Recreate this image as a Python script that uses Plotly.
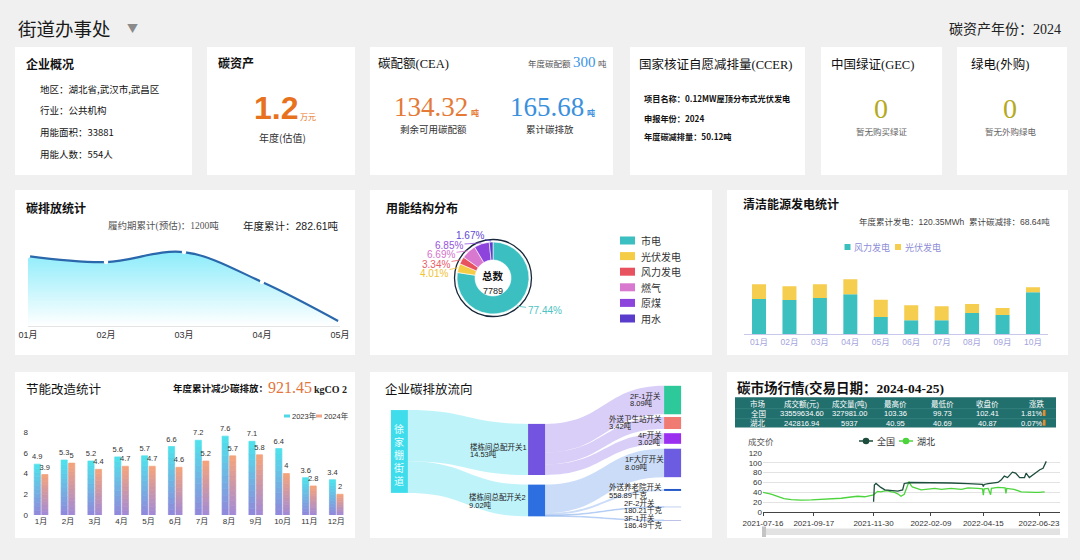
import math
import plotly.graph_objects as go

W, H = 1080, 560
SANS = "Noto Sans CJK SC, Noto Sans, sans-serif"
SERIF = "Liberation Serif, Noto Sans CJK SC, serif"
ARIAL = "Liberation Sans, Noto Sans CJK SC, sans-serif"

# ======================= DATA =======================
page_title = "街道办事处"
asset_year_label = "碳资产年份"
asset_year = "2024"

overview_title = "企业概况"
overview_labels = ["地区", "行业", "用能面积", "用能人数"]
overview_values = ["湖北省,武汉市,武昌区", "公共机构", "33881", "554人"]

asset_title = "碳资产"
asset_value = 1.2
asset_unit = "万元"
asset_note = "年度(估值)"

cea_title = "碳配额(CEA)"
cea_quota = 300
cea_remaining = 134.32
cea_emitted = 165.68

ccer_title = "国家核证自愿减排量(CCER)"
ccer_labels = ["项目名称", "申报年份", "年度碳减排量"]
ccer_values = ["0.12MW屋顶分布式光伏发电", "2024", "50.12吨"]

gec_title = "中国绿证(GEC)"
gec_value = 0
gec_note = "暂无购买绿证"
green_title = "绿电(外购)"
green_value = 0
green_note = "暂无外购绿电"

emission_months = ["01月", "02月", "03月", "04月", "05月"]
emission_values = [77.3, 70.6, 81.7, 48.6, 4.41]
emission_period_total = 1200
emission_year_total = 282.61

energy_labels = ["市电", "光伏发电", "风力发电", "燃气", "原煤", "用水"]
energy_share = [77.44, 4.01, 3.34, 6.69, 6.85, 1.67]
energy_total = 7789

clean_months = ["01月", "02月", "03月", "04月", "05月", "06月", "07月", "08月", "09月", "10月"]
clean_wind = [10.6, 10.3, 10.9, 12.1, 5.2, 4.2, 4.2, 6.4, 5.8, 12.7]
clean_solar = [4.5, 4.2, 4.2, 4.5, 5.2, 4.5, 4.2, 2.7, 2.1, 1.5]
clean_total_mwh = 120.35
clean_reduction = 68.64
clean_series = ["风力发电", "光伏发电"]

saving_months = ["1月", "2月", "3月", "4月", "5月", "6月", "7月", "8月", "9月", "10月", "11月", "12月"]
saving_2023 = [4.9, 5.3, 5.2, 5.6, 5.7, 6.6, 7.2, 7.6, 7.1, 6.4, 3.6, 3.4]
saving_2024 = [3.9, 5, 4.4, 4.7, 4.7, 4.6, 5.2, 5.7, 5.8, 4, 2.8, 2]
saving_series = ["2023年", "2024年"]
saving_total = 921.45

flow_nodes = ["徐家棚街道", "楼栋间总配开关1", "楼栋间总配开关2", "2F-1开关", "外送卫生站开关",
              "4F开关", "1F大厅开关", "外送养老院开关", "2F-2开关", "3F-1开关"]
flow_source = [0, 0, 1, 1, 1, 2, 2, 2, 2]
flow_target = [1, 2, 3, 4, 5, 6, 7, 8, 9]
flow_value = [14.53, 9.02, 8.09, 3.42, 3.02, 8.09, 0.55889, 0.18021, 0.18649]

market_trade_date = "2024-04-25"
market_header = ["市场", "成交额(元)", "成交量(吨)", "最高价", "最低价", "收盘价", "涨跌"]
market_national = ["全国", "33559634.60", "327981.00", "103.36", "99.73", "102.41", "1.81%"]
market_hubei = ["湖北", "242816.94", "5937", "40.95", "40.69", "40.87", "0.07%"]

hubei_dates = ["2021-07-16", "2021-07-26", "2021-08-03", "2021-08-11", "2021-08-20", "2021-09-01",
               "2021-09-14", "2021-09-26", "2021-10-08", "2021-10-21", "2021-11-02", "2021-11-10",
               "2021-11-19", "2021-11-27", "2021-11-30", "2021-12-05", "2021-12-09", "2021-12-14",
               "2021-12-18", "2021-12-22", "2021-12-26", "2021-12-30", "2022-01-03", "2022-01-07",
               "2022-01-11", "2022-01-13", "2022-01-15", "2022-01-17", "2022-01-28", "2022-02-09",
               "2022-02-14", "2022-02-22", "2022-03-06", "2022-03-19", "2022-03-27", "2022-04-08",
               "2022-04-14", "2022-04-15", "2022-04-16", "2022-04-21", "2022-04-24", "2022-04-25",
               "2022-05-03", "2022-05-12", "2022-05-13", "2022-05-14", "2022-05-23", "2022-06-01",
               "2022-06-09", "2022-06-18", "2022-06-23", "2022-06-30"]
hubei_price = [40, 36.5, 32, 27, 25, 24, 24.5, 25.5, 27, 28, 30.5, 32, 31, 33, 35, 42, 41, 43,
               43, 41, 40, 37, 32, 36, 55, 62, 55, 51, 45, 47, 48, 46, 48, 46, 49, 48, 47, 34,
               47, 48, 35, 48, 50, 49, 38, 48, 46, 41, 40, 40, 40, 41]
national_dates = ["2021-11-30", "2021-12-01", "2021-12-03", "2021-12-06", "2021-12-09", "2021-12-14",
                  "2021-12-22", "2021-12-30", "2022-01-05", "2022-01-07", "2022-01-15", "2022-01-28",
                  "2022-02-14", "2022-03-06", "2022-03-27", "2022-04-14", "2022-04-15", "2022-04-16",
                  "2022-04-21", "2022-05-03", "2022-05-07", "2022-05-11", "2022-05-15", "2022-05-21",
                  "2022-05-25", "2022-05-30", "2022-06-05", "2022-06-07", "2022-06-11", "2022-06-18",
                  "2022-06-24", "2022-06-28", "2022-07-02"]
national_price = [21, 55, 58, 53, 50, 45, 43, 42.5, 45, 58, 60, 60, 60, 59, 57.6, 56, 52, 56,
                  57.6, 60, 65, 73, 70, 81, 79, 70, 70, 79, 70, 79, 86, 89, 103]
market_series = ["全国", "湖北"]
market_ticks = ["2021-07-16", "2021-09-17", "2021-11-30", "2022-02-09", "2022-04-15", "2022-06-23"]

# ======================= STYLE =======================
energy_colors = ["#3bbfc0", "#f5cc45", "#e8525f", "#d878cf", "#8d44dc", "#5a3ccc"]
energy_text_colors = ["#4cc3c3", "#f0c232", "#e85d6a", "#d473cb", "#9455dd", "#6148d6"]
clean_colors = ["#3cbfbf", "#f5cd4f"]
node_colors = ["#3fdcec", "#7254e0", "#2d6fe0", "#2ec99a", "#f07b72", "#9b2ff0",
               "#6b5ce2", "#2458c8", "#9fb6e6", "#9aa0dc"]
link_palette = {0: "rgba(110,228,245,0.45)", 1: "rgba(185,165,240,0.55)", 2: "rgba(150,185,240,0.5)"}
market_colors = {"全国": "#1d4d3c", "湖北": "#4cd43c"}

shapes, ann = [], []


def X(x):
    return x / W


def Y(y):
    return 1 - y / H


def text(x, y, s, size=10, color="#222", family=SANS, xanchor="left", yanchor="middle", align="left"):
    ann.append(dict(xref="paper", yref="paper", x=X(x), y=Y(y), text=s, showarrow=False,
                    xanchor=xanchor, yanchor=yanchor, align=align, borderpad=0,
                    font=dict(size=size, color=color, family=family)))


def rect(x0, y0, x1, y1, fill, layer="below", line=None, lw=0):
    shapes.append(dict(type="rect", xref="paper", yref="paper", x0=X(x0), x1=X(x1), y0=Y(y1), y1=Y(y0),
                       fillcolor=fill, line=dict(width=lw, color=line or fill), layer=layer))


def hline(x0, x1, y, color, lw=1):
    shapes.append(dict(type="line", xref="paper", yref="paper", x0=X(x0), x1=X(x1), y0=Y(y), y1=Y(y),
                       line=dict(color=color, width=lw), layer="above"))


def circle(cx, cy, r, fill=None, line=None, lw=0):
    shapes.append(dict(type="circle", xref="paper", yref="paper", x0=X(cx - r), x1=X(cx + r),
                       y0=Y(cy + r), y1=Y(cy - r), fillcolor=fill or "rgba(0,0,0,0)",
                       line=dict(width=lw, color=line or "rgba(0,0,0,0)"), layer="above"))


# cards
for c in [(15, 47, 192, 175), (207, 47, 355, 175), (370, 47, 613, 175), (630, 47, 805, 175),
          (821, 47, 942, 175), (957, 47, 1067, 175),
          (15, 190, 355, 355), (370, 190, 712, 355), (727, 190, 1068, 355),
          (15, 372, 355, 538), (370, 372, 712, 538), (727, 372, 1068, 538)]:
    rect(*c, fill="white")

# header
text(17, 28, page_title, size=18.5, color="#1a1a1a")
text(132, 27.5, "▼", size=11, color="#8a8a8a", xanchor="center")
text(1062, 29, f"{asset_year_label}：{asset_year}", size=14, color="#222", family=SERIF, xanchor="right")

# card 1
text(25, 63, f"<b>{overview_title}</b>", size=12, color="#111")
for i, (lab, val) in enumerate(zip(overview_labels, overview_values)):
    text(39, [89, 110, 132, 154][i], f"{lab}：{val}", size=9.5, color="#111")

# card 2
text(217, 62, f"<b>{asset_title}</b>", size=12, color="#111")
text(299, 108, f"<b>{asset_value:g}</b>", size=32, color="#e8711e", family=ARIAL, xanchor="right")
text(299, 117, asset_unit, size=8, color="#e8711e", family=ARIAL)
text(282, 137, asset_note, size=10, color="#333", xanchor="center")

# card 3
text(377, 64, cea_title, size=12.5, color="#111", family=SERIF)
text(572, 63, "年度碳配额", size=8.5, color="#555", xanchor="right")
text(572, 62, f"{cea_quota}", size=15, color="#3a95e6", family=SERIF)
text(597, 63, "吨", size=8.5, color="#555")
text(469, 107, f"{cea_remaining:.2f}", size=27, color="#e57a37", family=SERIF, xanchor="right")
text(469.5, 112.5, "<b>吨</b>", size=8, color="#e57a37")
text(433, 129.5, "剩余可用碳配额", size=9.5, color="#333", xanchor="center")
text(585, 107, f"{cea_emitted:.2f}", size=27, color="#3b90dd", family=SERIF, xanchor="right")
text(585.5, 112.5, "<b>吨</b>", size=8, color="#3b90dd")
text(550, 129, "累计碳排放", size=9.5, color="#333", xanchor="center")

# card 4
text(638, 64, ccer_title, size=12.5, color="#111", family=SERIF)
for i, (lab, val) in enumerate(zip(ccer_labels, ccer_values)):
    text(643, [98, 118, 136][i], f"<b>{lab}：{val}</b>", size=8.2, color="#111")

# card 5, 6
text(830, 64, gec_title, size=12.5, color="#111", family=SERIF)
text(881, 109, f"{gec_value}", size=28, color="#b5aa1e", family=SERIF, xanchor="center")
text(882, 131, gec_note, size=8.5, color="#666", xanchor="center")
text(970, 64, green_title, size=12.5, color="#111", family=SERIF)
text(1010, 109, f"{green_value}", size=28, color="#b5aa1e", family=SERIF, xanchor="center")
text(1011, 131, green_note, size=8.5, color="#666", xanchor="center")

fig = go.Figure()

# ---------------- 碳排放统计 ----------------
text(25, 207, "<b>碳排放统计</b>", size=12, color="#111")
text(107, 226, f"履约期累计(预估)：{emission_period_total}吨", size=9.5, color="#555", family=SERIF)
text(242, 226, f"年度累计：{emission_year_total}吨", size=10.5, color="#222", family=ARIAL)
fig.add_trace(go.Scatter(
    x=emission_months, y=emission_values, mode="lines+markers", xaxis="x", yaxis="y",
    line=dict(color="#2a67ab", width=2.2, shape="spline", smoothing=1.0),
    marker=dict(size=4.5, color="white"), cliponaxis=False,
    fill="tozeroy",
    fillgradient=dict(type="vertical", start=0, stop=max(emission_values),
                      colorscale=[[0, "rgba(255,255,255,1)"], [1, "rgba(140,236,250,1)"]]),
    showlegend=False))

# ---------------- 用能结构分布 ----------------
text(385, 207, "<b>用能结构分布</b>", size=12, color="#111")
cx, cy, R = 493, 278, 36
fig.add_trace(go.Pie(
    labels=energy_labels, values=energy_share, hole=0.5, sort=False, direction="clockwise",
    rotation=0, textinfo="none", showlegend=False,
    marker=dict(colors=energy_colors, line=dict(color="white", width=0.6)),
    domain=dict(x=[X(cx - R), X(cx + R)], y=[Y(cy + R), Y(cy - R)])))
circle(cx, cy, R + 2.5, line="#17283a", lw=1.3)
text(cx, 275, "<b>总数</b>", size=10.5, color="#111", xanchor="center")
text(cx, 291, f"{energy_total}", size=9, color="#222", xanchor="center", family=ARIAL)
label_spots = [(544.5, 310), (434, 273), (436, 264), (441, 254.3), (449, 245), (469.5, 235.7)]
acc = 0.0
tot = sum(energy_share)
for v, col, (tx, ty) in zip(energy_share, energy_text_colors, label_spots):
    mid = math.radians((acc + v / 2) / tot * 360)
    acc += v
    hx = cx + (R + 1) * math.sin(mid)
    hy = cy - (R + 1) * math.cos(mid)
    ann.append(dict(xref="paper", yref="paper", x=X(hx), y=Y(hy), ax=tx - hx, ay=ty - hy,
                    text=f"{v:.2f}%", showarrow=True, arrowhead=0, arrowwidth=0.8, arrowcolor=col,
                    standoff=0, font=dict(size=10, color=col, family=ARIAL)))
for i, (lab, col) in enumerate(zip(energy_labels, energy_colors)):
    yy = 240.5 + i * 15.6
    rect(620, yy - 4, 635, yy + 4, fill=col, layer="above")
    text(640, yy, lab, size=10, color="#333")

# ---------------- 清洁能源发电统计 ----------------
text(742, 203, "<b>清洁能源发电统计</b>", size=12, color="#111")
text(1051, 222, f"年度累计发电：{clean_total_mwh}MWh  累计碳减排：{clean_reduction}吨",
     size=8.5, color="#444", xanchor="right", family=ARIAL)
fig.add_trace(go.Bar(x=clean_months, y=clean_wind, name=clean_series[0], xaxis="x2", yaxis="y2",
                     width=0.46, marker=dict(color=clean_colors[0], line=dict(width=0)), showlegend=False))
fig.add_trace(go.Bar(x=clean_months, y=clean_solar, base=clean_wind, name=clean_series[1], xaxis="x2",
                     yaxis="y2", width=0.46, marker=dict(color=clean_colors[1], line=dict(width=0)),
                     showlegend=False))
for (lx, name, col) in zip([844.5, 895], clean_series, clean_colors):
    rect(lx, 244, lx + 6, 250, fill=col, layer="above")
    text(lx + 8.5, 247, name, size=9, color="#8e8ed6")

# ---------------- 节能改造统计 ----------------
text(25, 388, "节能改造统计", size=12.5, color="#111")
text(172, 388, "<b>年度累计减少碳排放：</b>", size=9.5, color="#111")
text(267, 387, f"{saving_total:.2f}", size=16, color="#e3743a", family=SERIF)
text(313, 389, "<b>kgCO 2</b>", size=10, color="#222", family=SERIF)

NSEG = 12


def mix(c0, c1, t):
    return "rgb(%d,%d,%d)" % tuple(round(a + (b - a) * t) for a, b in zip(c0, c1))


for vals, name, cb, ct, off in [(saving_2023, saving_series[0], (146, 134, 218), (78, 228, 236), -0.255),
                                (saving_2024, saving_series[1], (160, 138, 216), (246, 164, 122), 0.025)]:
    for k in range(NSEG):
        top = k == NSEG - 1
        seg_col = mix(cb, ct, (k + 0.5) / NSEG)
        fig.add_trace(go.Bar(
            x=saving_months, y=[v / NSEG for v in vals], base=[v * k / NSEG for v in vals],
            offset=off, width=0.23, xaxis="x3", yaxis="y3", name=name, showlegend=False,
            marker=dict(color=seg_col, line=dict(width=0.7, color=seg_col)),
            text=[f"{v:g}" for v in vals] if top else None,
            textposition="outside" if top else "none", textangle=0, constraintext="none",
            textfont=dict(size=7.5, color="#333", family=ARIAL), cliponaxis=False,
            hoverinfo="skip" if not top else None))
for lx, name, col in zip([284, 316], saving_series, ["#4fd8e6", "#f0a486"]):
    rect(lx, 414.5, lx + 6, 417.5, fill=col, layer="above")
    text(lx + 6.5, 416, name, size=7.5, color="#333", family=ARIAL)

# ---------------- 企业碳排放流向 ----------------
text(384, 388, "企业碳排放流向", size=12.5, color="#111")
node_x = [0.029, 0.502, 0.502, 0.971, 0.971, 0.971, 0.971, 0.971, 0.971, 0.971]
node_y = [0.485, 0.470, 0.848, 0.104, 0.274, 0.389, 0.570, 0.770, 0.896, 0.995]
fig.add_trace(go.Sankey(
    domain=dict(x=[X(391), X(681)], y=[Y(521), Y(386)]),
    arrangement="fixed",
    node=dict(label=flow_nodes, pad=8.7, thickness=17, color=node_colors, line=dict(width=0),
              x=node_x, y=node_y),
    link=dict(source=flow_source, target=flow_target, value=flow_value,
              color=[link_palette[s] for s in flow_source]),
    textfont=dict(color="rgba(0,0,0,0)", size=1)))


def fmt_flow(v):
    return f"{v * 1000:.2f}千克" if v < 1 else f"{v:.2f}吨"


node_amount = [None] * len(flow_nodes)
for s, t, v in zip(flow_source, flow_target, flow_value):
    node_amount[t] = v
label_left = {1: (469, 447), 2: (468, 497.3), 3: (629, 396), 4: (608, 419), 5: (636.7, 435),
              6: (624.3, 459.3), 7: (608, 487.3), 8: (623.3, 502.7), 9: (623.3, 517.7)}
for idx, (lx, ly) in label_left.items():
    text(lx, ly, flow_nodes[idx], size=7.5, color="#222", family=ARIAL)
    text(lx, ly + 7.3, fmt_flow(node_amount[idx]), size=7.5, color="#222", family=ARIAL)
text(399, 454, "<br>".join(list(flow_nodes[0])), size=10, color="#eaffff", xanchor="center", align="center")

# ---------------- 碳市场行情 ----------------
text(736, 388, f"<b>碳市场行情(交易日期：{market_trade_date})</b>", size=13.5, color="#111", family=SERIF)
rect(735, 397.3, 1056, 427.5, fill="#22706e", layer="above")
hline(735, 1056, 408.7, "#3d8b89", 0.6)
hline(735, 1056, 418.7, "#3d8b89", 0.6)
col_cx = [758.3, 801.7, 849, 895.7, 942.3, 987.7, 1036.7]
for j, h in enumerate(market_header):
    text(col_cx[j], 403.5, h, size=7.5, color="white", xanchor="center", family=ARIAL)
for row, ry in [(market_national, 413.5), (market_hubei, 423.2)]:
    for j, v in enumerate(row):
        xx = col_cx[j] if j < 6 else 1031.5
        text(xx, ry, v, size=7.5, color="white", xanchor="center", family=ARIAL)
    rect(1043, ry - 3.5, 1045.5, ry + 2.5, fill="#f08a24", layer="above")

text(761, 441, "成交价", size=8.5, color="#555", xanchor="center")
for lx, name in zip([859, 899], market_series):
    col = market_colors[name]
    hline(lx, lx + 14, 441, col, 1.5)
    circle(lx + 7, 441, 3.3, fill=col)
    text(lx + 17, 441, name, size=9, color="#333")

fig.add_trace(go.Scatter(x=hubei_dates, y=hubei_price, mode="lines", xaxis="x4", yaxis="y4",
                         name=market_series[1], line=dict(color=market_colors["湖北"], width=1.3),
                         showlegend=False))
fig.add_trace(go.Scatter(x=national_dates, y=national_price, mode="lines", xaxis="x4", yaxis="y4",
                         name=market_series[0], line=dict(color=market_colors["全国"], width=1.3),
                         showlegend=False))
rect(763, 528.5, 1060, 535, fill="#e2e2e2", layer="above")
rect(762, 526.5, 766, 537, fill="#c4c4c4", layer="above")

noaxis = dict(showgrid=False, zeroline=False, fixedrange=True, automargin=False)
fig.update_layout(
    width=W, height=H, margin=dict(l=0, r=0, t=0, b=0, pad=0, autoexpand=False), autosize=False,
    paper_bgcolor="#f0f0f0", plot_bgcolor="rgba(0,0,0,0)", barmode="overlay", showlegend=False,
    font=dict(family=SANS, size=10, color="#222"),
    xaxis=dict(domain=[X(28), X(340)], anchor="y", type="category", range=[0, len(emission_months) - 1],
               showline=True, linecolor="#e4e4e4", ticks="", tickfont=dict(size=9, color="#333", family=ARIAL),
               **noaxis),
    yaxis=dict(domain=[Y(326), Y(240)], anchor="x", range=[0, 95], visible=False, **noaxis),
    xaxis2=dict(domain=[X(743.8), X(1048.2)], anchor="y2", type="category", range=[-0.5, 9.5],
                showline=True, linecolor="#c8c8ea", ticks="",
                tickfont=dict(size=8.5, color="#a4a4dc", family=ARIAL), **noaxis),
    yaxis2=dict(domain=[Y(334), Y(255)], anchor="x2", range=[0, 24], visible=False, **noaxis),
    xaxis3=dict(domain=[X(29), X(351)], anchor="y3", type="category", range=[-0.45, 11.55],
                showline=False, ticks="", tickfont=dict(size=8, color="#333", family=ARIAL), **noaxis),
    yaxis3=dict(domain=[Y(515), Y(421.6)], anchor="x3", range=[0, 9], tickvals=[0, 2, 4, 6, 8],
                ticks="", showline=False, tickfont=dict(size=8, color="#333", family=ARIAL), **noaxis),
    xaxis4=dict(domain=[X(763), X(1060)], anchor="y4", type="date", range=["2021-07-16", "2022-07-19"],
                tickvals=market_ticks, ticktext=market_ticks, showline=True, linecolor="#444",
                ticks="outside", ticklen=3, tickcolor="#444",
                tickfont=dict(size=8, color="#333", family=ARIAL), **noaxis),
    yaxis4=dict(domain=[Y(512), Y(453)], anchor="x4", range=[0, 120], dtick=20, showgrid=True,
                gridcolor="#e3e3e3", zeroline=False, ticks="", fixedrange=True, automargin=False,
                tickfont=dict(size=8, color="#333", family=ARIAL)),
    shapes=shapes, annotations=ann,
)

fig.write_html("out.html", config={"displayModeBar": False},
               post_script="document.body.style.margin='0';document.body.style.overflow='hidden';")
